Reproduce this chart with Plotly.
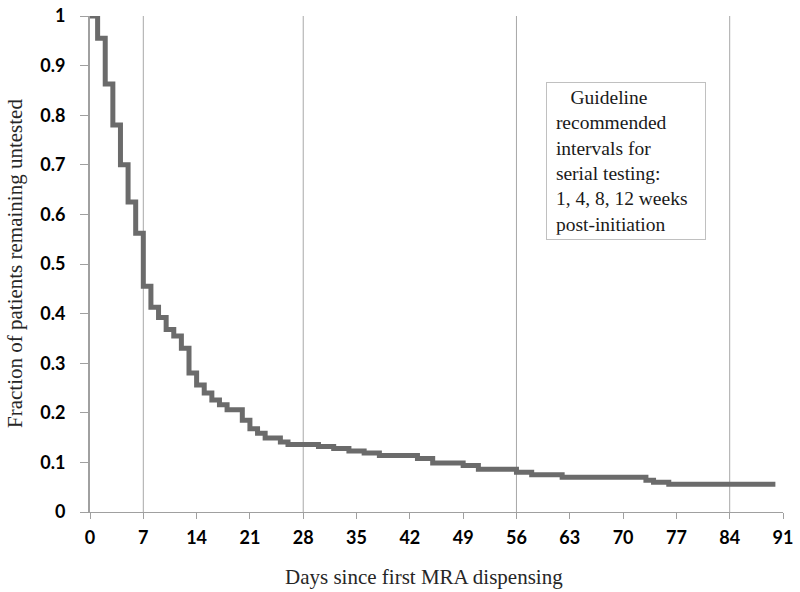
import plotly.graph_objects as go

# Kaplan-Meier style step curve
days = [0, 1, 2, 3, 4, 5, 6, 7, 8, 9, 10, 11, 12, 13, 14, 15, 16, 17, 18, 20,
        21, 22, 23, 25, 26, 30, 32, 34, 36, 38, 43, 45, 49, 51, 56, 58, 62,
        73, 74, 76, 90]
fraction_untested = [1.0, 0.955, 0.863, 0.78, 0.70, 0.625, 0.562, 0.455, 0.413,
                     0.392, 0.368, 0.355, 0.33, 0.28, 0.256, 0.24, 0.226, 0.216,
                     0.206, 0.185, 0.168, 0.159, 0.149, 0.141, 0.136, 0.132,
                     0.128, 0.123, 0.119, 0.114, 0.108, 0.099, 0.094, 0.086,
                     0.08, 0.075, 0.07, 0.064, 0.06, 0.056, 0.056]

guideline_days = [7, 28, 56, 84]
x_ticks = [0, 7, 14, 21, 28, 35, 42, 49, 56, 63, 70, 77, 84, 91]
y_ticks = [0, 0.1, 0.2, 0.3, 0.4, 0.5, 0.6, 0.7, 0.8, 0.9, 1]
y_tick_labels = ["0", "0.1", "0.2", "0.3", "0.4", "0.5", "0.6", "0.7", "0.8", "0.9", "1"]

x_title = "Days since first MRA dispensing"
y_title = "Fraction of patients remaining untested"
note_lines = ["Guideline", "recommended", "intervals for", "serial testing:",
              "1, 4, 8, 12 weeks", "post-initiation"]

L, R, T, B = 90, 783, 16, 512  # plot area in pixels
W, H = 800, 592


def px(x):
    return (x - L) / (R - L)


def py(y):
    return (B - y) / (B - T)


fig = go.Figure()
fig.add_trace(go.Scatter(
    x=days, y=fraction_untested, mode="lines",
    line=dict(shape="hv", color="#6b6b6b", width=5),
    showlegend=False, hoverinfo="skip"))

for d in guideline_days:
    fig.add_shape(type="line", xref="x", yref="y", x0=d, x1=d, y0=0, y1=1,
                  line=dict(color="#a8a8a8", width=1), layer="below")

serif = "Liberation Serif"
# annotation box
lines_fmt = ["&nbsp;&nbsp;&nbsp;&nbsp;" + note_lines[0]] + ["&nbsp;" + s for s in note_lines[1:]]
fig.add_annotation(
    xref="paper", yref="paper", x=px(546), y=py(82),
    xanchor="left", yanchor="top", showarrow=False, align="left",
    text="<br>".join(lines_fmt), width=150,
    font=dict(family=serif, size=19.5, color="#1a1a1a"),
    bordercolor="#c0c0c0", borderwidth=1, borderpad=4, bgcolor="white")
fig.add_shape(type="line", xref="paper", yref="paper",
              x0=px(560), x1=px(560), y0=py(92), y1=py(111),
              line=dict(color="#a8a8a8", width=1))

# axis titles
fig.add_annotation(xref="paper", yref="paper", x=px(424), y=py(577),
                   xanchor="center", yanchor="middle", showarrow=False,
                   text=x_title, font=dict(family=serif, size=21, color="#262626"))
fig.add_annotation(xref="paper", yref="paper", x=px(15), y=py(264),
                   xanchor="center", yanchor="middle", showarrow=False, textangle=-90,
                   text=y_title, font=dict(family=serif, size=21, color="#262626"))

tick_font = dict(family="Lato", size=18, color="black", weight="bold")
fig.update_layout(
    width=W, height=H,
    margin=dict(l=L, r=W - R, t=T, b=H - B),
    plot_bgcolor="white", paper_bgcolor="white",
    xaxis=dict(range=[0, 91], tickvals=x_ticks, ticktext=[str(t) for t in x_ticks],
               showgrid=False, zeroline=False, showline=True, linecolor="#a0a0a0",
               linewidth=1, ticks="outside", ticklen=6, tickcolor="#a0a0a0",
               tickfont=tick_font, automargin=False, ticklabelstandoff=3),
    yaxis=dict(range=[0, 1], tickvals=y_ticks, ticktext=y_tick_labels,
               showgrid=False, zeroline=False, showline=True, linecolor="#a0a0a0",
               linewidth=2, ticks="outside", ticklen=8, tickcolor="#a0a0a0",
               tickfont=tick_font, automargin=False, ticklabelstandoff=11),
)
fig.update_traces(cliponaxis=False)

fig.write_html("out.html", config={"displayModeBar": False},
               post_script="document.body.style.margin='0';document.body.style.padding='0';")
